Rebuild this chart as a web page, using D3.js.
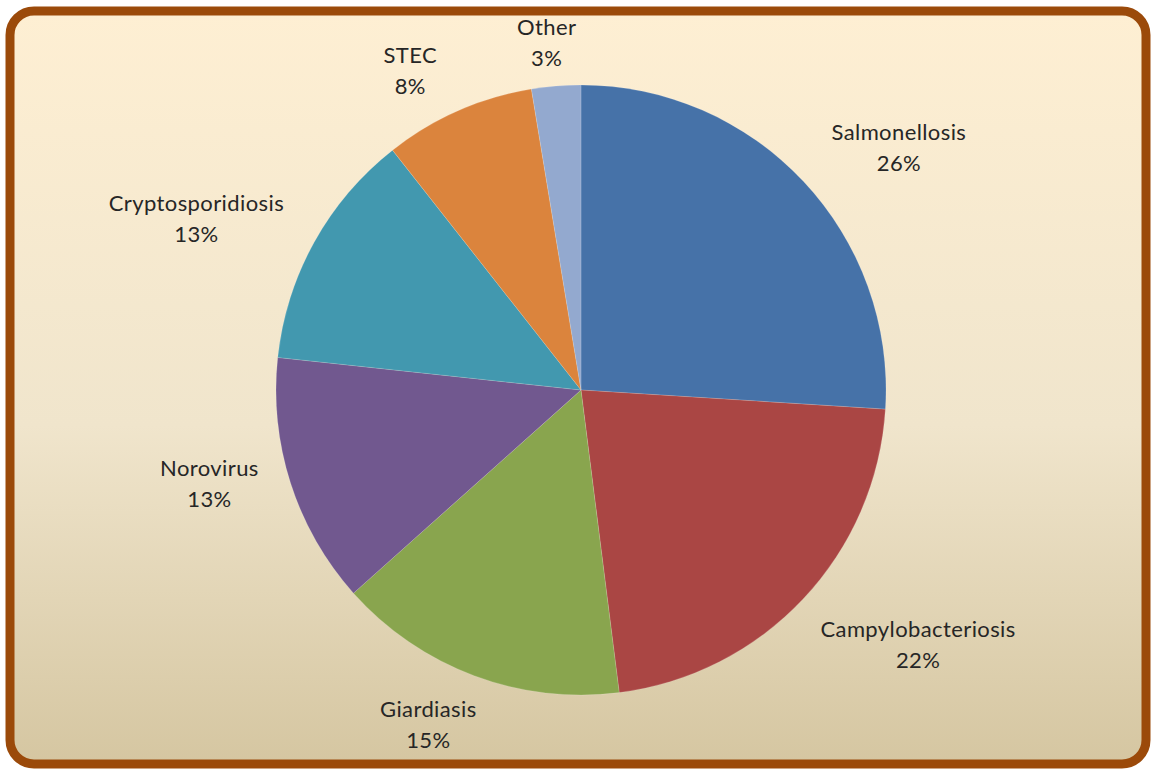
<!DOCTYPE html>
<html><head><meta charset="utf-8">
<script src="https://cdn.jsdelivr.net/npm/d3@7"></script>
<style>html,body{margin:0;padding:0;background:#fff;}svg{display:block;}</style>
</head><body>
<script>
const categories = ["Salmonellosis","Campylobacteriosis","Giardiasis","Norovirus","Cryptosporidiosis","STEC","Other"];
const values = [26.0, 22.0, 15.4, 13.3, 12.7, 8.0, 2.6];
const colors = ["#4672A8","#AA4644","#89A54E","#71588F","#4298AF","#DB843D","#93A9CF"];

const W = 1151, H = 769;
const svg = d3.select("body").append("svg").attr("width", W).attr("height", H);
const defs = svg.append("defs");
const grad = defs.append("linearGradient").attr("id","bg").attr("x1",0).attr("y1",0).attr("x2",0).attr("y2",1);
grad.append("stop").attr("offset","0%").attr("stop-color","#FEEFD3");
grad.append("stop").attr("offset","55%").attr("stop-color","#F0E5CC");
grad.append("stop").attr("offset","100%").attr("stop-color","#D5C6A1");

svg.append("rect").attr("x",10).attr("y",11).attr("width",1136).attr("height",753)
  .attr("rx",24).attr("ry",24).attr("fill","url(#bg)")
  .attr("stroke","#9B4A0A").attr("stroke-width",9);

const cx = 581, cy = 390, R = 305;
const g = svg.append("g").attr("transform",`translate(${cx},${cy})`);
const pie = d3.pie().sort(null).value(d => d.v);
const data = categories.map((c,i)=>({c, v: values[i], col: colors[i]}));
const arcs = pie(data);
const arc = d3.arc().innerRadius(0).outerRadius(R);
g.selectAll("path.slice").data(arcs).enter().append("path")
  .attr("class","slice").attr("d",arc).attr("fill",d=>d.data.col)
  .attr("stroke","rgba(255,255,255,0.25)").attr("stroke-width",0.6);

const total = d3.sum(values);
const fmt = v => Math.round(v/total*100) + "%";
const fontSize = 22, lineH = 31;
const labels = g.selectAll("g.lab").data(arcs).enter().append("g").attr("class","lab");
labels.each(function(d){
  const el = d3.select(this);
  const t = el.append("text").attr("text-anchor","middle")
    .style("font-family","Lato, 'Open Sans', sans-serif").style("font-size",fontSize+"px")
    .style("letter-spacing","0.4px").attr("fill","#262626");
  t.append("tspan").attr("x",0).attr("y",-lineH/2+7).text(d.data.c);
  t.append("tspan").attr("x",0).attr("y",lineH/2+7).text(fmt(d.data.v));
  const bb = t.node().getBBox();
  const w = bb.width, h = 60;
  const mid = (d.startAngle + d.endAngle)/2;
  const a = mid + (6*Math.PI/180)*Math.sin(2*mid);
  const s = Math.sin(a), c = Math.cos(a);
  const gap = 22*Math.abs(s) + 8*Math.abs(c);
  const dist = R + gap + (w/2)*Math.abs(s) + (h/2)*Math.abs(c);
  el.attr("transform",`translate(${dist*s},${-dist*c})`);
});
</script>
</body></html>
